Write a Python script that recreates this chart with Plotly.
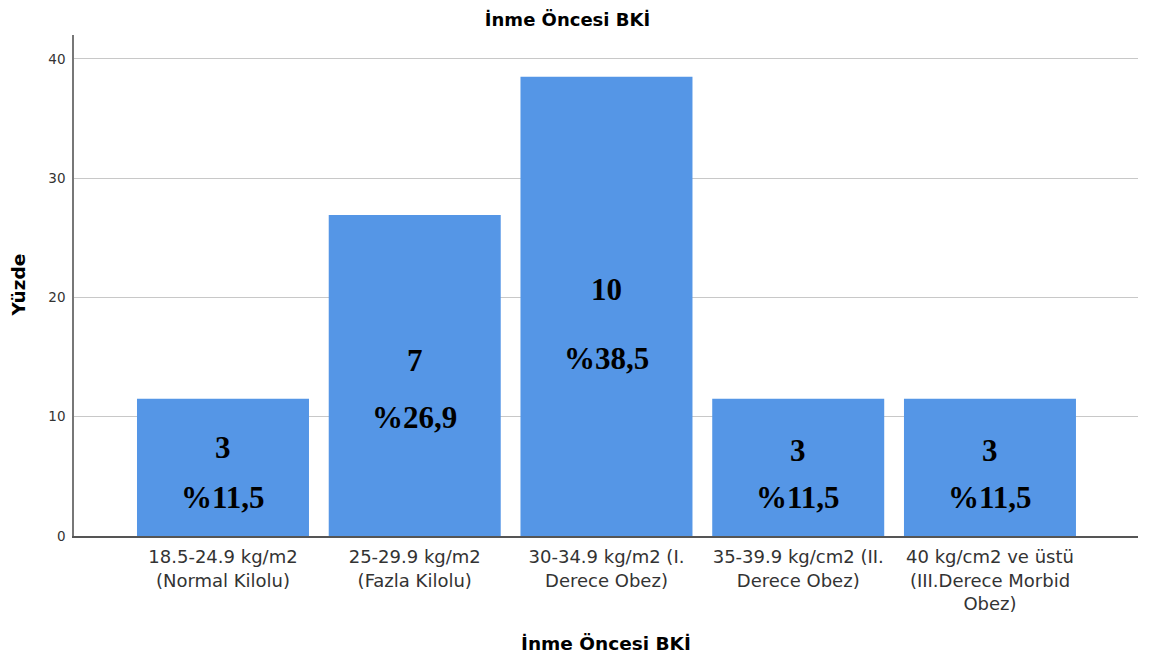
import plotly.graph_objects as go

categories = [
    "18.5-24.9 kg/m2<br>(Normal Kilolu)",
    "25-29.9 kg/m2<br>(Fazla Kilolu)",
    "30-34.9 kg/m2 (I.<br>Derece Obez)",
    "35-39.9 kg/cm2 (II.<br>Derece Obez)",
    "40 kg/cm2 ve üstü<br>(III.Derece Morbid<br>Obez)",
]
percent = [11.5, 26.9, 38.5, 11.5, 11.5]
counts = [3, 7, 10, 3, 3]
percent_labels = ["%11,5", "%26,9", "%38,5", "%11,5", "%11,5"]
count_label_y = [7.45, 14.75, 20.7, 7.2, 7.2]
pct_label_y = [3.25, 9.9, 14.9, 3.25, 3.25]
y_ticks = [0, 10, 20, 30, 40]

xs = list(range(len(categories)))

# the page body has an 8px default margin; the figure is sized to compensate
W, H = 1142, 653
ML, MR, MT, MB = 66, 12, 27, 125
PW = W - ML - MR

SANS = "DejaVu Sans"
SERIF = "Liberation Serif"

fig = go.Figure()
fig.add_trace(go.Bar(
    x=xs, y=percent, width=0.897,
    marker=dict(color="#5596E6", line=dict(width=0)),
    hoverinfo="skip",
))

annotations = []
for i in xs:
    annotations.append(dict(x=i, y=count_label_y[i], xref="x", yref="y", text="<b>%d</b>" % counts[i],
                            showarrow=False, font=dict(family=SERIF, size=31, color="black")))
    annotations.append(dict(x=i, y=pct_label_y[i], xref="x", yref="y", text="<b>%s</b>" % percent_labels[i],
                            showarrow=False, font=dict(family=SERIF, size=31, color="black")))

# axis titles
annotations.append(dict(x=0.5, y=0, xref="paper", yref="paper", text="<b>İnme Öncesi BKİ</b>",
                        xanchor="center", yanchor="middle", yshift=-107,
                        showarrow=False, font=dict(family=SANS, size=18.5, color="black")))
annotations.append(dict(x=-56 / PW, y=0.5, xref="paper", yref="paper", text="<b>Yüzde</b>", textangle=-90,
                        xanchor="center", yanchor="middle",
                        showarrow=False, font=dict(family=SANS, size=18.5, color="black")))

fig.update_layout(
    width=W, height=H,
    margin=dict(l=ML, r=MR, t=MT, b=MB, autoexpand=False),
    paper_bgcolor="white", plot_bgcolor="white",
    showlegend=False,
    title=dict(text="<b>İnme Öncesi BKİ</b>", x=559.5 / W, xanchor="center", y=1 - 12 / H, yanchor="middle",
               font=dict(family=SANS, size=18, color="black")),
    annotations=annotations,
    xaxis=dict(
        tickmode="array", tickvals=xs, ticktext=categories,
        range=[-0.777, 4.772], automargin=False,
        showline=True, linecolor="#555555", linewidth=1.5,
        showgrid=False, ticks="", ticklen=0, ticklabelstandoff=4,
        tickfont=dict(family=SANS, size=18, color="#333333"),
        fixedrange=True,
    ),
    yaxis=dict(
        range=[0, 42], tickmode="array", tickvals=y_ticks, automargin=False,
        showline=True, linecolor="#777777", linewidth=1.5,
        showgrid=True, gridcolor="#C8C8C8", gridwidth=1,
        zeroline=False, ticks="", ticklabelstandoff=4,
        tickfont=dict(family=SANS, size=13.5, color="#333333"),
        fixedrange=True,
    ),
)

fig.write_html("out.html")
